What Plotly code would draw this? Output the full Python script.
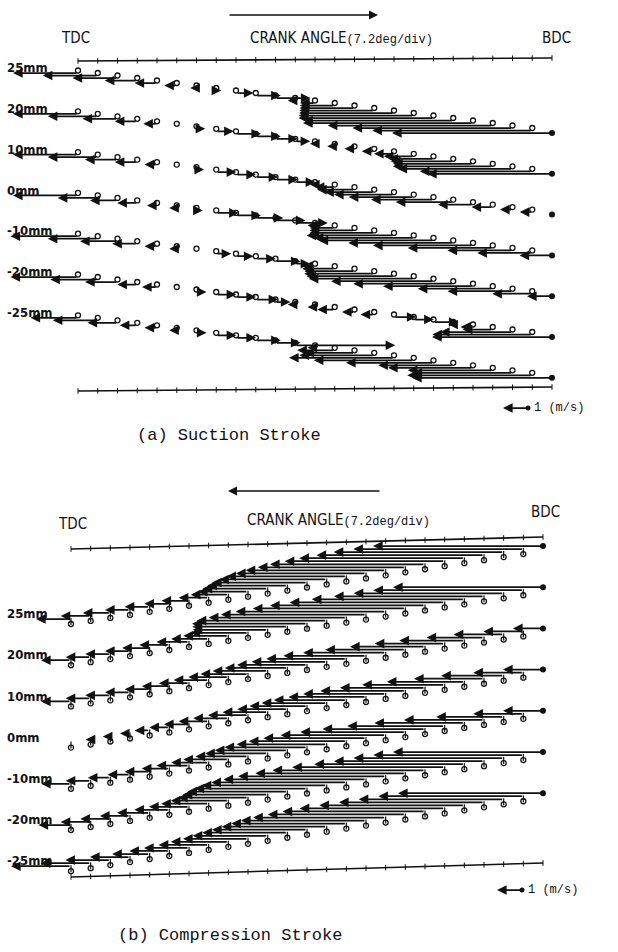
import plotly.graph_objects as go

FIG_W, FIG_H = 618, 952

# ---------------- data ----------------
STEP_DEG = 7.2
N_PTS = 25
crank_deg = [round(STEP_DEG * i, 1) for i in range(N_PTS)]   # TDC (0) ... 172.8
row_labels = ["25mm", "20mm", "10mm", "0mm", "-10mm", "-20mm", "-25mm"]

# (a) suction stroke: axial velocity u (m/s) at each crank step, TDC -> BDC
suc_25 = [-2.6, -2.2, -1.8, -1.3, -0.9, -0.5, -0.25, 0.2, 0.7, 1.0, 1.4, -0.3, -0.6,
          -1.4, -2.2, -3.0, -3.8, -4.6, -5.4, -6.0, -6.8, -6.6, -6.4, -6.4, -6.4]
suc_20 = [-2.6, -2.0, -1.4, -0.9, -0.55, 0.0, 0.35, 0.7, 1.0, 1.0, 0.9, 0.6, -0.2,
          -0.3, -0.4, -0.5, -0.8, -1.2, -1.8, -2.5, -3.2, -4.0, -4.6, -4.5, -5.0]
suc_10 = [-2.6, -2.0, -1.3, -0.9, -0.5, -0.1, 0.3, 0.8, 0.8, 0.9, 0.9, 0.8, -0.2,
          -0.8, -1.5, -2.0, -2.4, -2.6, -2.5, -2.3, -1.4, -0.85, -0.5, -0.5, 0.0]
suc_0 = [-2.6, -1.6, -1.1, -0.8, -0.4, -0.3, 0.25, 0.9, 1.0, 1.1, 1.2, 1.3, -0.3,
         -1.0, -1.8, -2.6, -3.5, -4.0, -4.6, -4.2, -4.0, -3.4, -2.6, -2.2, -1.3]
suc_m10 = [-2.7, -2.0, -1.5, -1.0, -0.5, -0.3, 0.0, 0.6, 0.7, 0.8, 1.0, 0.6, -0.5,
           -1.3, -2.0, -2.8, -3.5, -4.2, -4.1, -4.0, -3.6, -3.0, -2.6, -1.6, -1.0]
suc_m20 = [-2.7, -1.9, -1.3, -0.8, -0.6, 0.0, 0.4, 0.8, 0.8, 0.9, 0.6, -0.3, -0.3,
           -0.7, -0.5, -0.55, 0.9, 0.8, 1.0, -0.2, -0.5, -1.2, -2.9, -4.0, -4.8]
suc_m25 = [-1.9, -1.8, -1.2, -0.7, -0.5, -0.3, 0.4, 0.8, 0.8, 1.0, 1.0, 4.0, -0.3,
           -1.5, -2.0, -3.0, -4.2, -4.0, -3.5, -3.0, -3.4, -3.4, -4.0, -5.0, -5.6]

# (b) compression stroke: u (m/s), listed TDC -> BDC (stroke runs right to left)
comp_25 = [-1.4, -1.2, -1.1, -1.0, -1.0, -1.0, -1.1, -1.2, -1.5, -2.0, -2.6, -3.2, -3.8,
           -4.3, -4.8, -5.2, -5.6, -5.9, -6.2, -6.4, -6.6, -6.7, -6.8, -6.8, -6.8]
comp_20 = [-1.2, -1.0, -1.0, -1.0, -1.1, -1.2, -1.3, -1.5, -1.8, -2.3, -3.0, -3.8, -4.6,
           -5.2, -5.5, -5.8, -6.0, -6.1, -6.2, -6.2, -6.1, -6.0, -6.0, -6.0, -6.0]
comp_10 = [-1.2, -1.0, -1.0, -1.0, -1.0, -1.1, -1.2, -1.4, -1.6, -1.9, -2.2, -2.5, -2.8,
           -3.0, -3.2, -3.3, -3.3, -3.2, -3.0, -2.8, -2.6, -2.3, -2.0, -1.6, -1.2]
comp_0 = [-0.15, -0.2, -0.3, -0.4, -0.6, -0.8, -1.0, -1.2, -1.4, -1.6, -1.8, -2.0, -2.3,
          -2.6, -2.9, -3.1, -3.3, -3.4, -3.4, -3.3, -3.1, -2.8, -2.5, -2.0, -1.6]
comp_m10 = [-1.2, -1.0, -0.9, -0.9, -1.0, -1.1, -1.3, -1.5, -1.8, -2.1, -2.5, -2.9, -3.3,
            -3.6, -3.9, -4.1, -4.2, -4.2, -4.1, -3.9, -3.6, -3.2, -2.7, -2.0, -1.6]
comp_m20 = [-1.3, -1.2, -1.2, -1.2, -1.3, -1.4, -1.6, -1.9, -2.3, -2.8, -3.4, -4.0, -4.5,
            -5.0, -5.4, -5.7, -5.9, -6.0, -6.1, -6.1, -6.0, -6.0, -6.0, -6.0, -6.0]
comp_m25 = [-2.4, -2.0, -1.8, -1.6, -1.5, -1.6, -1.8, -2.0, -2.3, -2.6, -3.0, -3.4, -3.8,
            -4.2, -4.6, -5.0, -5.3, -5.5, -5.7, -5.8, -5.8, -5.8, -5.8, -5.8, -5.8]

suction_rows = [suc_25, suc_20, suc_10, suc_0, suc_m10, suc_m20, suc_m25]
compression_rows = [comp_25, comp_20, comp_10, comp_0, comp_m10, comp_m20, comp_m25]
REF_SPEED = 1.0  # m/s, scale arrow

# ---------------- layout geometry (pixels of the page) ----------------
PX_PER_MS = 25.0
SPAN = crank_deg[-1]
PANEL_A = dict(x0=78, x1=552, row0=73, gap=40.8, drift=60, circ=-2.5,
               ax_top=(61, 58), ax_bot=(391, 387), ref=(503, 408))
PANEL_B = dict(x0=71, x1=543, row0=619, gap=41.2, drift=-73, circ=5,
               ax_top=(549, 537), ax_bot=(877, 863), ref=(497, 890))

SANS = "Liberation Sans Narrow, DejaVu Sans Condensed, Arial Narrow, sans-serif"
MONO = "Liberation Mono, Courier New, DejaVu Sans Mono, monospace"
INK = "#111111"
ARROW = dict(arrowhead=2, arrowsize=1.1, arrowwidth=1.75, arrowcolor=INK,
             standoff=0, startstandoff=0)

fig = go.Figure()
annotations = []


def setup_panel(P):
    ppd = (P["x1"] - P["x0"]) / SPAN
    P["ppd"] = ppd
    xr = [-P["x0"] / ppd, (FIG_W - P["x0"]) / ppd]
    yr = [(FIG_H - P["row0"]) / P["gap"], -P["row0"] / P["gap"]]
    return dict(range=xr, domain=[0, 1]), dict(range=yr, domain=[0, 1])


def row_y(P, r, ang):
    return r + (P["drift"] / P["gap"]) * (ang / SPAN)


def px_to_row(P, py):
    return (py - P["row0"]) / P["gap"]


def draw_panel(P, rows, xref, yref, circ_stem):
    ppd = P["ppd"]
    # axis lines with ticks
    for (ya, yb) in (P["ax_top"], P["ax_bot"]):
        ys = [px_to_row(P, ya + (yb - ya) * a / SPAN) for a in crank_deg]
        fig.add_trace(go.Scatter(
            x=crank_deg, y=ys, mode="lines+markers", xaxis=xref, yaxis=yref,
            line=dict(color=INK, width=1.6),
            marker=dict(symbol="line-ns", size=4, line=dict(color=INK, width=1)),
            hoverinfo="skip", showlegend=False))
    # vectors
    for r, us in enumerate(rows):
        ys = [row_y(P, r, a) for a in crank_deg]
        for a, y, u in zip(crank_deg, ys, us):
            if abs(u) < 0.05:
                continue
            head = a + u * PX_PER_MS / ppd
            annotations.append(dict(
                x=head, y=y, ax=a, ay=y, xref=xref, yref=yref,
                axref=xref, ayref=yref, text="", showarrow=True, **ARROW))
        cy = [y + P["circ"] / P["gap"] for y in ys[:-1]]
        if circ_stem:
            sy = [y + 0.5 * P["circ"] / P["gap"] for y in ys[:-1]]
            fig.add_trace(go.Scatter(
                x=crank_deg[:-1], y=sy, mode="markers", xaxis=xref, yaxis=yref,
                marker=dict(symbol="line-ns", size=5, line=dict(color=INK, width=1.2)),
                hoverinfo="skip", showlegend=False))
        fig.add_trace(go.Scatter(
            x=crank_deg[:-1], y=cy, mode="markers", xaxis=xref, yaxis=yref,
            marker=dict(symbol="circle-open", size=5, color=INK, line=dict(color=INK, width=1.3)),
            hoverinfo="skip", showlegend=False))
        fig.add_trace(go.Scatter(
            x=[crank_deg[-1]], y=[ys[-1]], mode="markers", xaxis=xref, yaxis=yref,
            marker=dict(symbol="circle", size=6, color=INK),
            hoverinfo="skip", showlegend=False))
        # row label
        annotations.append(dict(
            x=-P["x0"] / ppd + 5 / ppd, y=r - 0.13, xref=xref, yref=yref,
            text="<b>" + row_labels[r] + "</b>", showarrow=False, xanchor="left",
            yanchor="middle", font=dict(family=SANS, size=13, color=INK)))
    # 1 m/s scale arrow
    hx, hy = P["ref"]
    ha = (hx - P["x0"]) / ppd
    ta = ha + REF_SPEED * PX_PER_MS / ppd
    ry = px_to_row(P, hy)
    annotations.append(dict(
        x=ha, y=ry, ax=ta, ay=ry, xref=xref, yref=yref, axref=xref, ayref=yref,
        text="", showarrow=True, **ARROW))
    fig.add_trace(go.Scatter(
        x=[ta], y=[ry], mode="markers", xaxis=xref, yaxis=yref,
        marker=dict(symbol="circle", size=5, color=INK), hoverinfo="skip", showlegend=False))
    annotations.append(dict(
        x=ta + 4 / ppd, y=ry, xref=xref, yref=yref, text="1 (m/s)", showarrow=False,
        xanchor="left", yanchor="middle", font=dict(family=MONO, size=12, color=INK)))


xa, ya = setup_panel(PANEL_A)
xb, yb = setup_panel(PANEL_B)
draw_panel(PANEL_A, suction_rows, "x", "y", False)
draw_panel(PANEL_B, compression_rows, "x2", "y2", True)


def pp(xpx, ypx):
    return xpx / FIG_W, 1 - ypx / FIG_H


def text(xpx, ypx, s, family, size, anchor="center"):
    x, y = pp(xpx, ypx)
    annotations.append(dict(x=x, y=y, xref="paper", yref="paper", text=s, showarrow=False,
                            xanchor=anchor, yanchor="middle",
                            font=dict(family=family, size=size, color=INK)))


def paper_arrow(x_head, x_tail, ypx):
    x, y = pp(x_head, ypx)
    annotations.append(dict(x=x, y=y, xref="paper", yref="paper", ax=x_tail - x_head, ay=0,
                            axref="pixel", ayref="pixel", text="", showarrow=True,
                            arrowhead=2, arrowsize=1.2, arrowwidth=1.5, arrowcolor=INK,
                            standoff=0, startstandoff=0))


CRANK = ("CRANK ANGLE<span style='font-family:Liberation Mono, monospace;font-size:12px'>"
         "(7.2deg/div)</span>")
# (a)
paper_arrow(378, 228, 15)
text(75, 38, "TDC", SANS, 15)
text(248, 38, CRANK, SANS, 15, "left")
text(556, 38, "BDC", SANS, 15)
text(229, 436, "(a) Suction Stroke", MONO, 17)
# (b)
paper_arrow(228, 381, 491)
text(72, 524, "TDC", SANS, 15)
text(245, 520, CRANK, SANS, 15, "left")
text(545, 512, "BDC", SANS, 15)
text(230, 935, "(b) Compression Stroke", MONO, 17)

hidden = dict(visible=False, showgrid=False, zeroline=False, fixedrange=True)
fig.update_layout(
    width=FIG_W, height=FIG_H, margin=dict(l=0, r=0, t=0, b=0),
    paper_bgcolor="white", plot_bgcolor="white", showlegend=False,
    xaxis=dict(**hidden, **xa), yaxis=dict(**hidden, **ya, anchor="x"),
    xaxis2=dict(**hidden, **xb, anchor="y2", overlaying="x"),
    yaxis2=dict(**hidden, **yb, anchor="x2", overlaying="y"),
    annotations=annotations,
)
fig.write_html("out.html")
